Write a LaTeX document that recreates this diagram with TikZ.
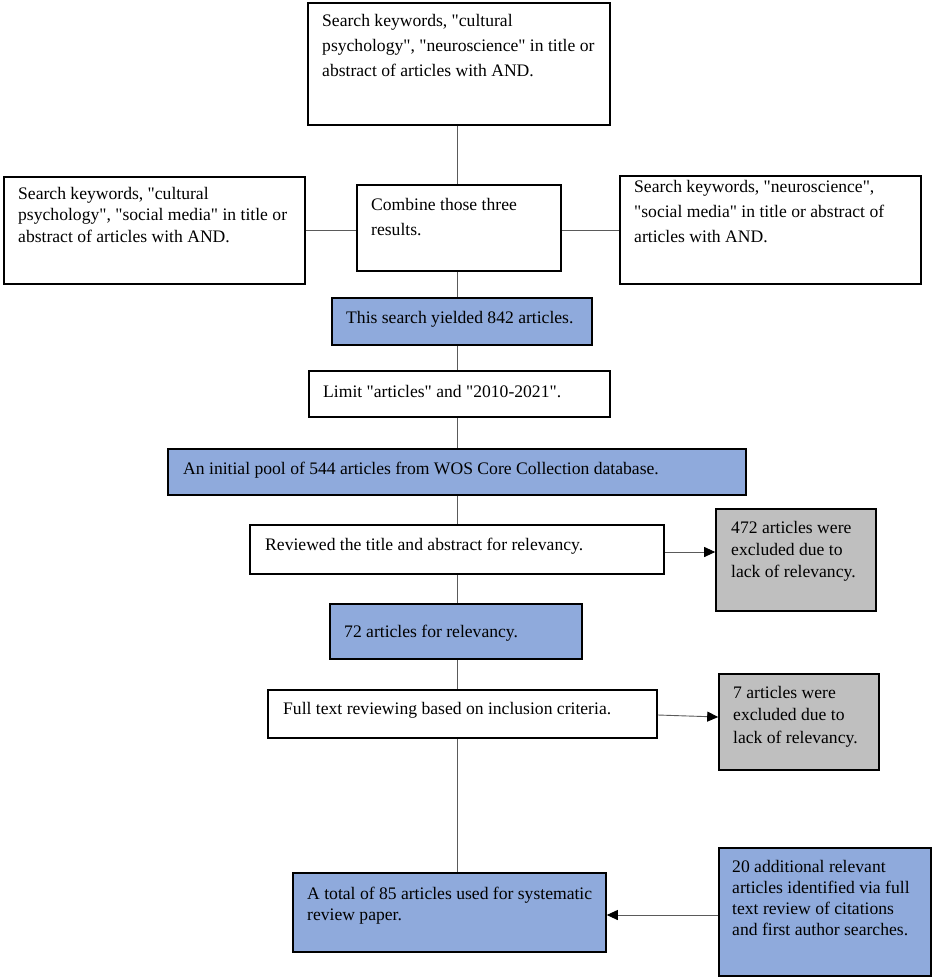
\documentclass[tikz,border=0pt]{standalone}
\usepackage{fontspec}
\newfontfamily\tnr{Liberation Serif}
\usetikzlibrary{arrows.meta}
\definecolor{boxblue}{HTML}{8FAADC}
\definecolor{boxgray}{HTML}{BFBFBF}
\definecolor{linegray}{HTML}{5A5A5A}
\newcommand{\tb}[3]{\parbox[t]{#1}{\fontsize{17.6}{#2}\selectfont\raggedright #3}}
\begin{document}
\begin{tikzpicture}[x=1pt,y=-1pt,
  box/.style={draw=black, line width=1.6pt, inner sep=0pt},
  wbox/.style={box, fill=white},
  bbox/.style={box, fill=boxblue},
  gbox/.style={box, fill=boxgray},
  txt/.style={anchor=base west, inner sep=0pt, font=\tnr\fontsize{17.6}{21}\selectfont},
  conn/.style={draw=linegray, line width=0.9pt},
  arr/.style={conn, -{Triangle[length=11pt,width=10pt,color=black]}}]
\useasboundingbox (0,0) rectangle (935,980);
\fill[white] (0,0) rectangle (935,980);
% boxes
\node[wbox, minimum width=302pt, minimum height=122pt] (top)   at (459,64) {};
\node[wbox, minimum width=301pt, minimum height=107pt] (left)  at (154.5,230.5) {};
\node[wbox, minimum width=204pt, minimum height=86pt]  (comb)  at (459,228) {};
\node[wbox, minimum width=301pt, minimum height=108pt] (right) at (770.5,230) {};
\node[bbox, minimum width=260pt, minimum height=47pt]  (s842)  at (462,321.5) {};
\node[wbox, minimum width=301pt, minimum height=46pt]  (limit) at (459.5,394) {};
\node[bbox, minimum width=578pt, minimum height=46pt]  (pool)  at (457,472) {};
\node[wbox, minimum width=414pt, minimum height=49pt]  (rev)   at (457,549.5) {};
\node[gbox, minimum width=160pt, minimum height=102pt] (ex1)   at (796,560) {};
\node[bbox, minimum width=252pt, minimum height=55pt]  (a72)   at (456,631.5) {};
\node[wbox, minimum width=389pt, minimum height=48pt]  (full)  at (462.5,714) {};
\node[gbox, minimum width=160pt, minimum height=96pt]  (ex2)   at (799,722) {};
\node[bbox, minimum width=313pt, minimum height=79pt]  (total) at (449.5,912.5) {};
\node[bbox, minimum width=212pt, minimum height=128pt] (add)   at (825,912) {};
% texts
\node[txt] (ttop) at (322,26) {\tb{300pt}{25}{Search keywords, "cultural\\psychology", "neuroscience" in title or\\abstract of articles with AND.}};
\node[txt] (tleft) at (18,199) {\tb{300pt}{21.5}{Search keywords, "cultural\\psychology", "social media" in title or\\abstract of articles with AND.}};
\node[txt] (tcomb) at (371,210) {\tb{200pt}{25}{Combine those three\\results.}};
\node[txt] (tright) at (634,192) {\tb{300pt}{25}{Search keywords, "neuroscience",\\"social media" in title or abstract of\\articles with AND.}};
\node[txt] (ts842) at (346,323) {This search yielded 842 articles.};
\node[txt] (tlimit) at (323,397) {Limit "articles" and "2010-2021".};
\node[txt] (tpool) at (183,474) {An initial pool of 544 articles from WOS Core Collection database.};
\node[txt] (trev) at (265,550) {Reviewed the title and abstract for relevancy.};
\node[txt] (tex1) at (731,533) {\tb{160pt}{22}{472 articles were\\excluded due to\\lack of relevancy.}};
\node[txt] (ta72) at (344,637) {72 articles for relevancy.};
\node[txt] (tfull) at (283,714) {Full text reviewing based on inclusion criteria.};
\node[txt] (tex2) at (733,698) {\tb{160pt}{22.5}{7 articles were\\excluded due to\\lack of relevancy.}};
\node[txt] (ttotal) at (307,899) {\tb{310pt}{21}{A total of 85 articles used for systematic\\review paper.}};
\node[txt] (tadd) at (732,872) {\tb{210pt}{21.3}{20 additional relevant\\articles identified via full\\text review of citations\\and first author searches.}};
% connectors
\coordinate (vx) at (457,0);
\coordinate (hy) at (0,230);
\draw[conn] (top.south -| vx) -- (comb.north -| vx);
\draw[conn] (left.east |- hy) -- (comb.west |- hy);
\draw[conn] (comb.east |- hy) -- (right.west |- hy);
\draw[conn] (comb.south -| vx) -- (s842.north -| vx);
\draw[conn] (s842.south -| vx) -- (limit.north -| vx);
\draw[conn] (limit.south -| vx) -- (pool.north -| vx);
\draw[conn] (pool.south -| vx) -- (rev.north -| vx);
\draw[conn] (rev.south -| vx) -- (a72.north -| vx);
\draw[conn] (a72.south -| vx) -- (full.north -| vx);
\draw[conn] (full.south -| vx) -- (total.north -| vx);
\coordinate (a1) at (0,552);
\coordinate (a2s) at (0,715);
\coordinate (a2e) at (0,717);
\coordinate (a3) at (0,915);
\draw[arr] (rev.east |- a1) -- (ex1.west |- a1);
\draw[arr] (full.east |- a2s) -- (ex2.west |- a2e);
\draw[arr] (add.west |- a3) -- (total.east |- a3);
\end{tikzpicture}
\end{document}
